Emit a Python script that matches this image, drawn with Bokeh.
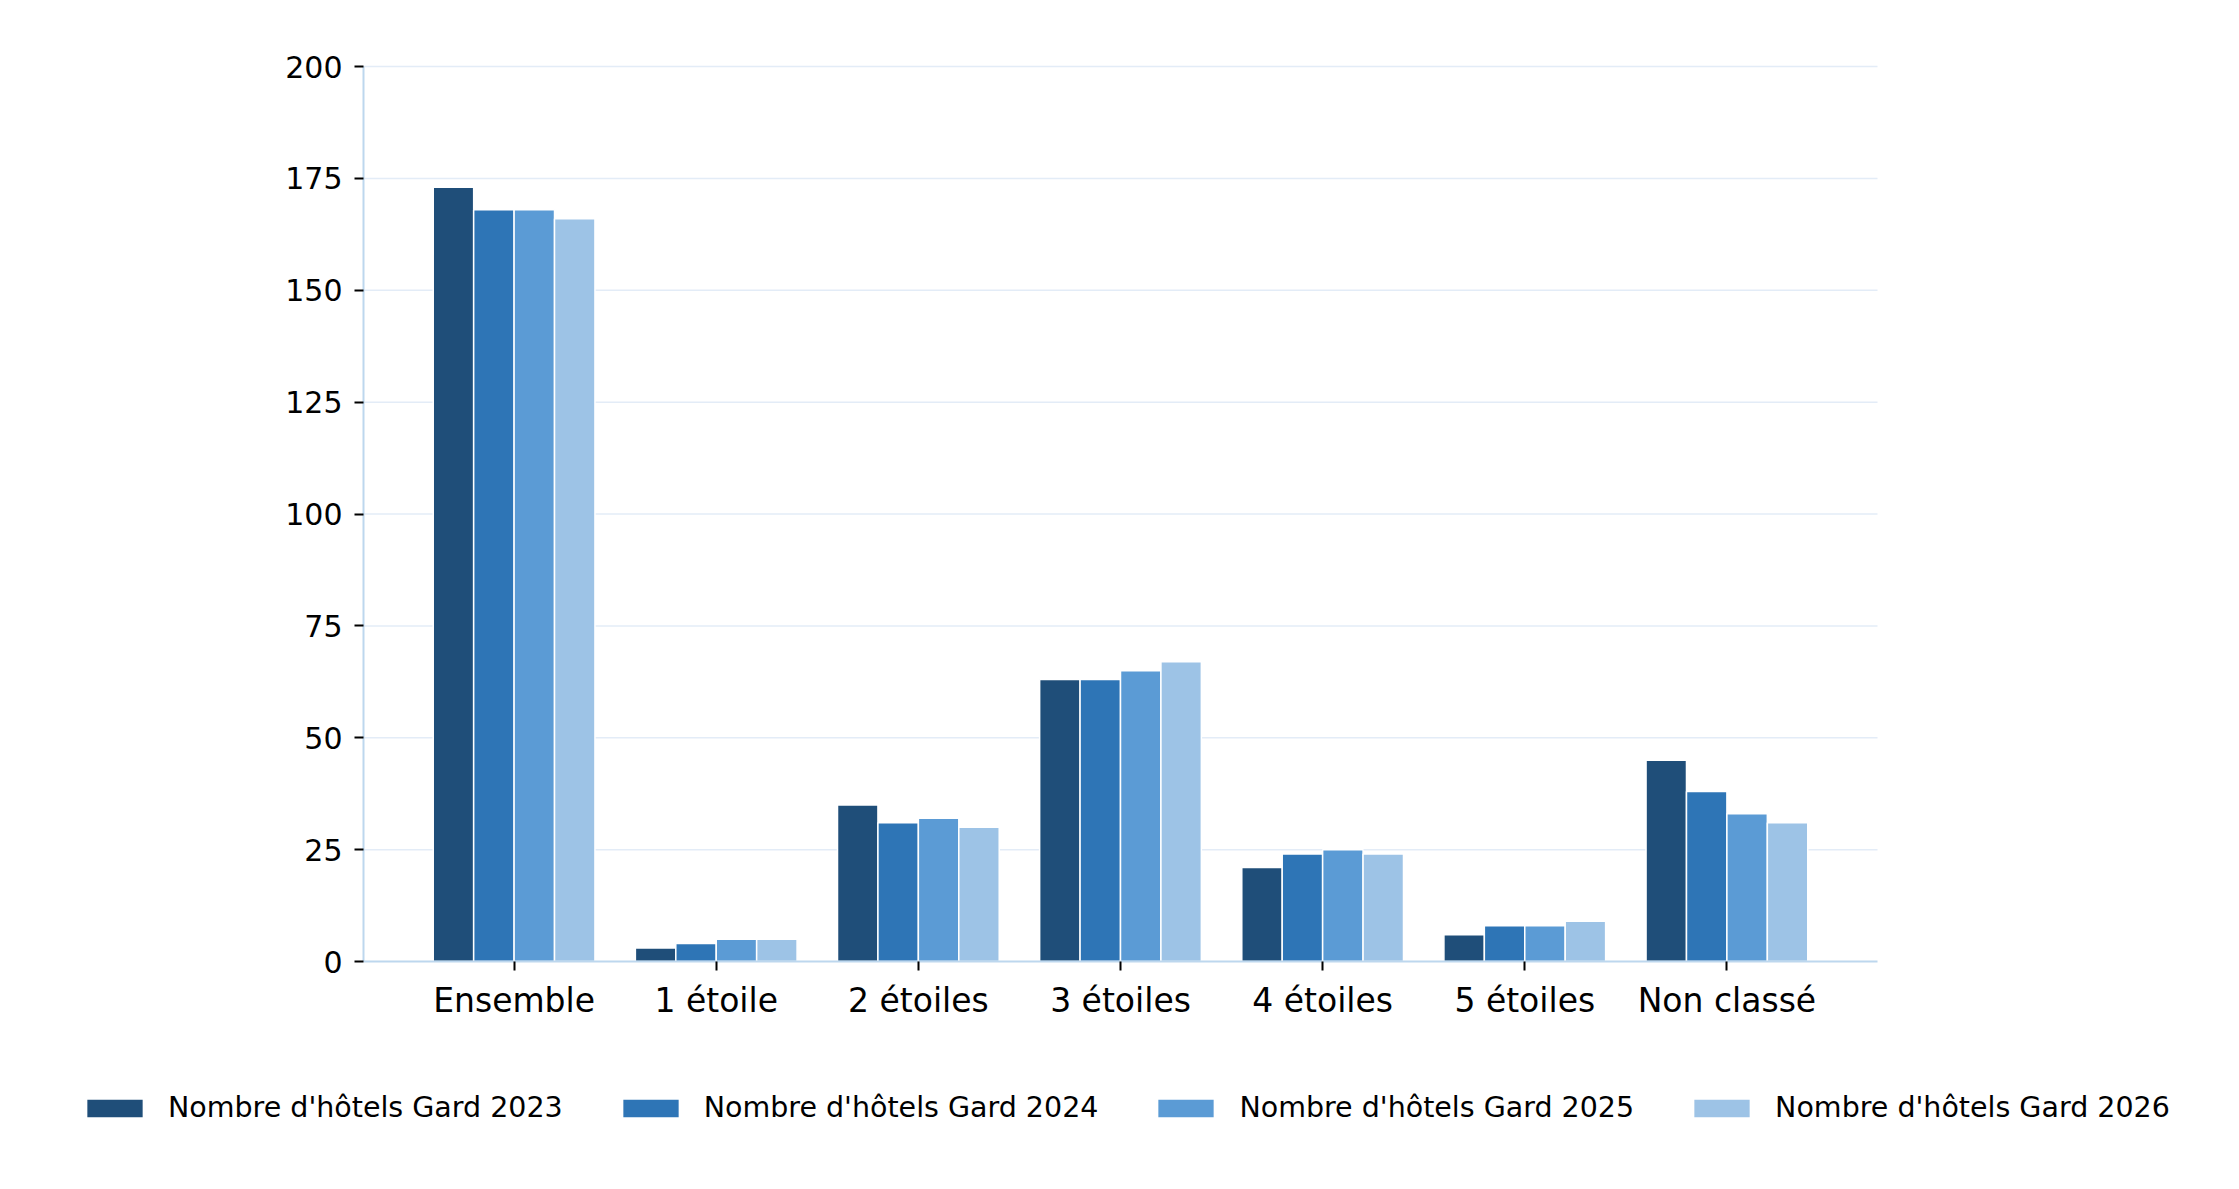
from bokeh.plotting import figure
from bokeh.models import (ColumnDataSource, Range1d, Legend, LegendItem, FixedTicker)
from bokeh.transform import dodge
from bokeh.embed import file_html
from bokeh.resources import INLINE

categories = ["Ensemble", "1 étoile", "2 étoiles", "3 étoiles", "4 étoiles", "5 étoiles", "Non classé"]
hotels_2023 = [173, 3, 35, 63, 21, 6, 45]
hotels_2024 = [168, 4, 31, 63, 24, 8, 38]
hotels_2025 = [168, 5, 32, 65, 25, 8, 33]
hotels_2026 = [166, 5, 30, 67, 24, 9, 31]
y_ticks = [0, 25, 50, 75, 100, 125, 150, 175, 200]
series_labels = ["Nombre d'hôtels Gard 2023", "Nombre d'hôtels Gard 2024",
                 "Nombre d'hôtels Gard 2025", "Nombre d'hôtels Gard 2026"]
colors = ["#1f4e79", "#2e75b6", "#5b9bd5", "#9dc3e6"]

positions = list(range(len(categories)))
source = ColumnDataSource(dict(pos=positions, y2023=hotels_2023, y2024=hotels_2024,
                               y2025=hotels_2025, y2026=hotels_2026))

FONT = "DejaVu Sans"

# ---- layout geometry (pixels) ----
FIG_W = 2220
LEFT = 79            # room for the y tick labels
TOP = 36
FRAME_BOTTOM = 1128
BOTTOM = 58
AX_L, AX_R = 363, 1877     # visible plot area (axis extent)
Y0_PX, Y200_PX = 961, 66
CAT_PITCH = (AX_R - AX_L) / (len(categories) + 0.49)
CAT0_PX = AX_L + CAT_PITCH * 0.745
PY = (Y0_PX - Y200_PX) / 200.0

x_start = (LEFT - CAT0_PX) / CAT_PITCH
x_end = (FIG_W - CAT0_PX) / CAT_PITCH
x_left = (AX_L - CAT0_PX) / CAT_PITCH
x_right = (AX_R - CAT0_PX) / CAT_PITCH
y_start = -(FRAME_BOTTOM - Y0_PX) / PY
y_end = 200 + (Y200_PX - TOP) / PY

p = figure(x_range=Range1d(x_start, x_end), y_range=Range1d(y_start, y_end),
           frame_width=FIG_W - LEFT, frame_height=FRAME_BOTTOM - TOP,
           min_border_left=LEFT, min_border_right=0, min_border_top=TOP, min_border_bottom=BOTTOM,
           output_backend="svg", toolbar_location=None)
p.outline_line_color = None
p.xgrid.grid_line_color = None
p.ygrid.grid_line_color = None

# horizontal grid lines over the plot area
grid_src = ColumnDataSource(dict(y=y_ticks[1:]))
p.segment(x0=x_left, x1=x_right, y0="y", y1="y", source=grid_src,
          line_color="#e3ecf7", line_width=1.5)

cols = ["y2023", "y2024", "y2025", "y2026"]
offsets = [-0.3, -0.1, 0.1, 0.3]
renderers = []
for col, off, c in zip(cols, offsets, colors):
    r = p.vbar(x=dodge("pos", off), top=col, width=0.2, bottom=0,
               source=source, fill_color=c, line_color="white", line_width=1.5)
    renderers.append(r)

xa = p.xaxis[0]
ya = p.yaxis[0]
xa.fixed_location = 0
xa.bounds = (x_left, x_right)
xa.ticker = FixedTicker(ticks=positions)
xa.major_label_overrides = {i: c for i, c in zip(positions, categories)}
ya.fixed_location = x_left
ya.bounds = (0, 200)
ya.ticker = FixedTicker(ticks=y_ticks)
for ax in (xa, ya):
    ax.axis_line_color = "#bdd7ee"
    ax.axis_line_width = 2
    ax.major_tick_line_color = "black"
    ax.major_tick_line_width = 2
    ax.major_tick_out = 9
    ax.major_tick_in = 0
    ax.minor_tick_line_color = None
    ax.major_label_text_font = FONT
    ax.major_label_text_color = "black"
ya.major_label_text_font_size = "30px"
ya.major_label_standoff = 12
xa.major_label_text_font_size = "33px"
xa.major_label_standoff = 10

legend = Legend(items=[LegendItem(label=l, renderers=[r]) for l, r in zip(series_labels, renderers)],
                orientation="horizontal", location=(0, 4), nrows=1,
                glyph_width=71, glyph_height=24, label_standoff=18, spacing=52,
                padding=0, margin=0, border_line_color=None, background_fill_alpha=0,
                label_text_font=FONT, label_text_font_size="28.5px", label_text_color="black")
p.add_layout(legend)

open("out.html", "w").write(file_html(p, INLINE))
